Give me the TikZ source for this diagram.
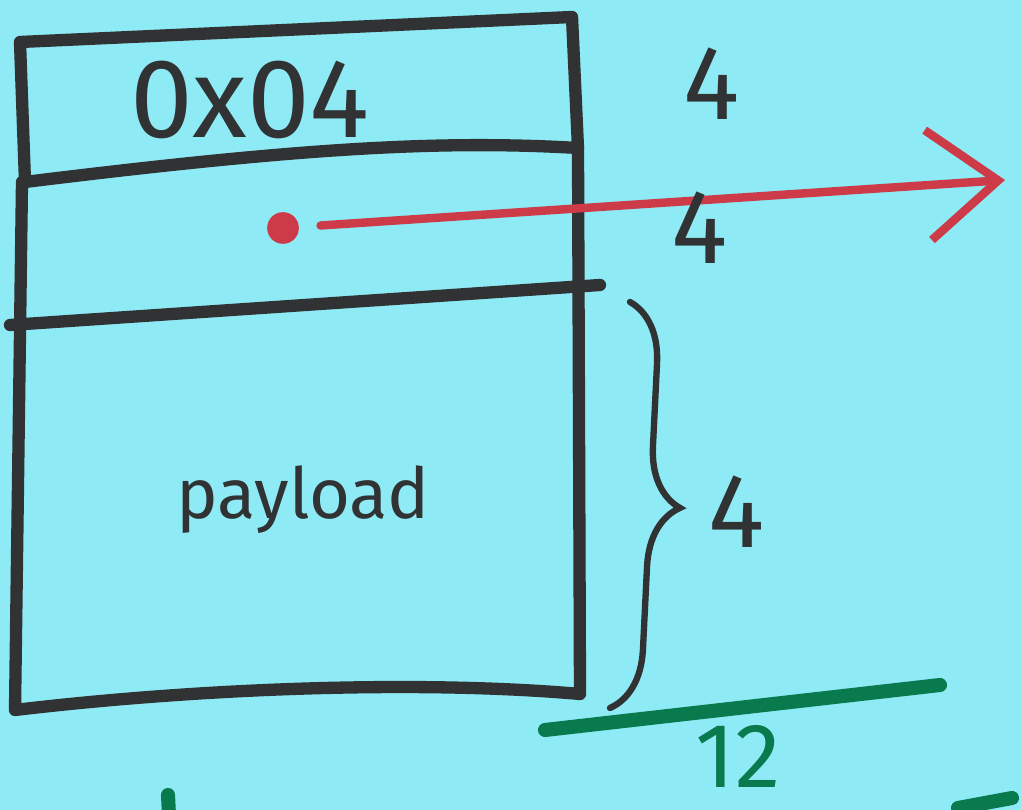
\documentclass[tikz,border=0pt]{standalone}
\usepackage{fontspec}
\setmainfont{Fira Sans}
\usetikzlibrary{arrows.meta,decorations.pathreplacing}
\definecolor{paper}{RGB}{142,234,244}
\definecolor{ink}{RGB}{48,50,52}
\definecolor{redink}{RGB}{205,58,72}
\definecolor{greenink}{RGB}{8,122,78}
\tikzset{pen/.style={draw=ink, line width=3.5pt, line cap=round, line join=round},
  lbl/.style={font=\fontsize{30}{36}\selectfont, text=ink},
  redarrow/.style={draw=redink, line width=2.4pt, line cap=round, -{Straight Barb[length=7mm, width=11mm, line width=2.4pt]}},
  greenpen/.style={draw=greenink, line width=4pt, line cap=round}}

\begin{document}
\begin{tikzpicture}[x=0.01cm, y=-0.01cm]
  \fill[paper] (0,0) rectangle (1021,810);
  \useasboundingbox (0,0) rectangle (1021,810);
  % header field
  \draw[pen] (20,42) -- (572,17) -- (578,148) .. controls (440,140) and (300,148) .. (25,182) -- cycle;
  \node[lbl, font=\fontsize{32}{38}\selectfont] (hdr) at (250,100) {0x04};
  % pointer field and payload
  \draw[pen] (22,182) -- (15,710) .. controls (200,688) and (420,680) .. (580,694) -- (578,148);
  \draw[pen] (10,325) -- (600,285);
  \node[lbl, font=\fontsize{20}{24}\selectfont] (pay) at (303,500) {payload};
  % pointer
  \node[circle, fill=redink, inner sep=0pt, minimum size=9pt] (dot) at (283,228) {};
  \coordinate (tip) at (1005,180);
  \draw[redarrow, shorten <=6pt] (dot) -- (tip);
  % sizes
  \node[lbl] (s1) at (712,84) {4};
  \node[lbl] (s2) at (700,228) {4};
  \node[lbl] (s3) at (737,512) {4};
  \draw[draw=ink, line width=1.8pt, line cap=round, decorate, decoration={brace, amplitude=6mm}] (630,302) -- (610,708);
  % total
  \draw[greenpen] (545,730) -- (940,685);
  \node[lbl, text=greenink, font=\fontsize{26}{30}\selectfont] (tot) at (738,756) {12};
  \draw[greenpen] (168,795) -- (169,815);
  \draw[greenpen] (958,808) -- (1012,798);
\end{tikzpicture}
\end{document}
